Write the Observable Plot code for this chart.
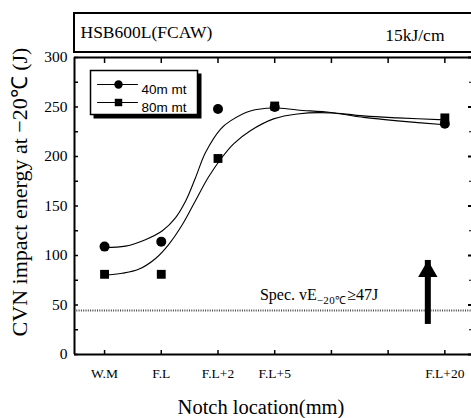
<!DOCTYPE html>
<html><head><meta charset="utf-8">
<script src="https://cdn.jsdelivr.net/npm/d3@7"></script>
<script src="https://cdn.jsdelivr.net/npm/@observablehq/plot@0.6"></script>
<style>
html,body{margin:0;padding:0;background:#fff;}
#wrap{position:relative;width:471px;height:418px;overflow:hidden;}
#titlebox{position:absolute;left:73px;top:12px;width:420px;height:37px;border:2px solid #000;border-right:none;}
#wrap svg{position:absolute;left:0;top:0;}
</style></head>
<body><div id="wrap"><div id="titlebox"></div></div>
<script>
// ---- data ----
const locations = ["W.M", "F.L", "F.L+2", "F.L+5", "F.L+20"];
const locationPos = [0, 1, 2, 3, 6];
const tickPos = [0, 1, 2, 3, 4, 5, 6];
const cvn40 = [109, 114, 248, 250, 233];
const cvn80 = [81, 81, 198, 251, 239];
const fit40x = [0, 0.37, 0.72, 1.02, 1.25, 1.43, 1.6, 1.78, 2.05, 2.22, 2.57, 2.98, 3.4, 3.99, 4.57, 5.17, 6];
const fit40y = [108, 109.5, 116, 125, 138, 155, 178, 204, 228, 236, 246, 249, 247, 244.5, 241, 239, 237];
const fit80x = [0, 0.31, 0.6, 0.9, 1.13, 1.37, 1.6, 1.83, 2.07, 2.28, 2.57, 2.98, 3.4, 3.99, 4.57, 5.17, 6];
const fit80y = [80, 82, 86, 97, 111, 131, 155, 179, 199, 213, 226, 238, 243, 244, 239.5, 236, 232];
const yTicks = [0, 50, 100, 150, 200, 250, 300];
const yMinor = [25, 75, 125, 175, 225, 275];
const specLevel = [44.5];
const arrowX = [5.7];
const arrowTip = [95];
const specLabelX = [2.74];
const seriesNames = ["40m mt", "80m mt"];
const titleText = "HSB600L(FCAW)";
const heatText = "15kJ/cm";
const yLabel = "CVN impact energy at \u221220\u2103 (J)";
const xLabel = "Notch location(mm)";

const pts40 = locationPos.map((x, i) => ({x, y: cvn40[i]}));
const pts80 = locationPos.map((x, i) => ({x, y: cvn80[i]}));
const fit40 = fit40x.map((x, i) => ({x, y: fit40y[i]}));
const fit80 = fit80x.map((x, i) => ({x, y: fit80y[i]}));
const xDomain = [-0.53, 6.47];
const serif = "Liberation Serif";
const sans = "Liberation Sans";
const hLine = {draw(c, l) { c.moveTo(0, 0); c.lineTo(0, -l); }};

const plot = Plot.plot({
  width: 471, height: 418,
  marginTop: 57, marginLeft: 74, marginRight: 0, marginBottom: 64,
  x: {domain: xDomain},
  y: {domain: [0, 300]},
  style: {fontFamily: serif, background: "transparent", color: "#000"},
  marks: [
    Plot.ruleY(specLevel, {stroke: "#444", strokeWidth: 2, strokeDasharray: "1,1.3"}),
    Plot.ruleX(arrowX, {x: d => d, y1: () => specLevel[0], y2: (d, i) => arrowTip[i], strokeWidth: 6, insetTop: 14}),
    Plot.dot(arrowX, {x: d => d, y: (d, i) => arrowTip[i], symbol: "triangle", r: 7.2, fill: "#000", stroke: null, dy: 11}),
    Plot.line(fit40, {x: "x", y: "y", curve: "catmull-rom", strokeWidth: 1.1}),
    Plot.line(fit80, {x: "x", y: "y", curve: "catmull-rom", strokeWidth: 1.1}),
    Plot.dot(pts40, {x: "x", y: "y", r: 5, fill: "#000", stroke: null}),
    Plot.dot(pts80, {x: "x", y: "y", r: 5, symbol: "square", fill: "#000", stroke: null}),
    // frame lines
    Plot.ruleX([xDomain[0]], {strokeWidth: 2}),
    Plot.ruleY([0], {strokeWidth: 2}),
    Plot.ruleY([300], {strokeWidth: 2}),
    // axes
    Plot.axisY(yTicks, {tickSize: 0, tickPadding: 7, fontSize: 15.5, letterSpacing: 0.4, label: null}),
    Plot.axisY(yTicks.concat(yMinor), {tickSize: -4, text: null, strokeWidth: 1.5, label: null}),
    Plot.axisY(yTicks, {anchor: "right", tickSize: -4, text: null, strokeWidth: 2, label: null}),
    Plot.axisY(yMinor, {anchor: "right", tickSize: -3, text: null, strokeWidth: 1, label: null}),
    Plot.axisX(locationPos, {tickSize: 0, tickPadding: 14, fontSize: 13.5, letterSpacing: 0.6, label: null, tickFormat: d => locations[locationPos.indexOf(d)]}),
    Plot.axisX(tickPos, {tickSize: -4, text: null, strokeWidth: 1.5, label: null}),
    Plot.axisX(tickPos, {anchor: "top", tickSize: -5, text: null, strokeWidth: 1.5, label: null}),
    // spec label
    Plot.text(specLabelX, {x: d => d, y: () => specLevel[0], text: () => "Spec. vE", dy: -10, lineAnchor: "bottom", textAnchor: "start", fontSize: 16, letterSpacing: 0.9, className: "spec"}),
    // legend box
    Plot.frame({fill: "#000", insetLeft: 19, insetTop: 16, insetRight: 270, insetBottom: 236}),
    Plot.frame({fill: "#fff", stroke: "#000", strokeWidth: 1.5, insetLeft: 16, insetTop: 13, insetRight: 274, insetBottom: 240}),
    Plot.vector([seriesNames[0]], {frameAnchor: "top-left", dx: 23, dy: 27, rotate: 90, length: 40, anchor: "start", strokeWidth: 1, shape: hLine}),
    Plot.vector([seriesNames[1]], {frameAnchor: "top-left", dx: 23, dy: 45, rotate: 90, length: 40, anchor: "start", strokeWidth: 1, shape: hLine}),
    Plot.dot([seriesNames[0]], {frameAnchor: "top-left", dx: 44, dy: 27, r: 4.2, fill: "#000", stroke: null}),
    Plot.dot([seriesNames[1]], {frameAnchor: "top-left", dx: 44, dy: 45, r: 4.2, symbol: "square", fill: "#000", stroke: null}),
    Plot.text([seriesNames[0]], {frameAnchor: "top-left", dx: 67, dy: 27, textAnchor: "start", fontFamily: sans, fontSize: 13.5, letterSpacing: 0.6}),
    Plot.text([seriesNames[1]], {frameAnchor: "top-left", dx: 67, dy: 45, textAnchor: "start", fontFamily: sans, fontSize: 13.5, letterSpacing: 0.6}),
    // titles
    Plot.text([titleText], {frameAnchor: "top-left", dx: 6, dy: -20, textAnchor: "start", lineAnchor: "bottom", fontSize: 17.5, letterSpacing: 0.6}),
    Plot.text([heatText], {frameAnchor: "top-right", dx: -27, dy: -17, textAnchor: "end", lineAnchor: "bottom", fontSize: 17.5, letterSpacing: 0.4}),
    Plot.text([yLabel], {frameAnchor: "left", rotate: -90, dx: -55, dy: -14, textAnchor: "middle", fontSize: 22, letterSpacing: 0.5}),
    Plot.text([xLabel], {frameAnchor: "bottom", dx: -12, dy: 59, textAnchor: "middle", lineAnchor: "bottom", fontSize: 20.5, letterSpacing: 0.3})
  ]
});
document.getElementById("wrap").appendChild(plot);

// subscript in the spec label
d3.select(plot).selectAll("g.spec text").each(function() {
  const t = d3.select(this);
  t.append("tspan").attr("dy", 4).attr("font-size", 11).attr("letter-spacing", 0.3).text("\u221220\u2103");
  t.append("tspan").attr("dy", -4).attr("dx", 1).text("\u226547J");
});
</script>
</body></html>
